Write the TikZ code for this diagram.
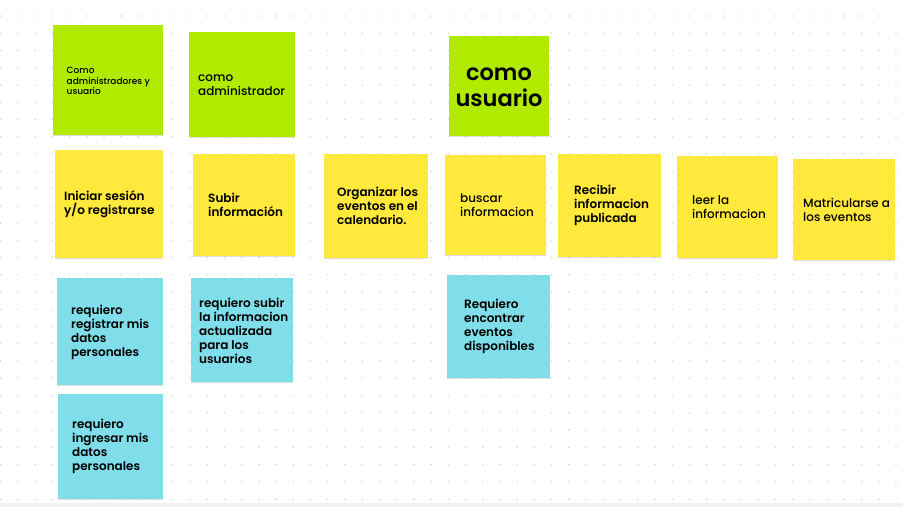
\documentclass[tikz,border=0pt]{standalone}
\usepackage{fontspec}
\setmainfont{Poppins}
\newfontfamily\media{Poppins Medium}
\newfontfamily\semi{Poppins SemiBold}
\usetikzlibrary{shadows}

\definecolor{verdenota}{HTML}{AFEA00}
\definecolor{amarillonota}{HTML}{FFE93D}
\definecolor{celestenota}{HTML}{80DEEA}

\begin{document}
\begin{tikzpicture}[x=1pt,y=-1pt]
		\tikzstyle{nota} = [rectangle,inner sep=0pt,drop shadow={shadow xshift=0pt,shadow yshift=-1.2pt,opacity=0.25}]
		\tikzstyle{verde} = [nota,fill=verdenota]
		\tikzstyle{amarilla} = [nota,fill=amarillonota]
		\tikzstyle{celeste} = [nota,fill=celestenota]
		\tikzstyle{texto} = [anchor=west,align=left,inner sep=0pt,font=\semi\fontsize{12}{14}\selectfont]
		\tikzstyle{fino} = [texto,font=\media\fontsize{12}{14}\selectfont]
		
		\useasboundingbox (0,0) rectangle (903,507);
		\fill[white] (0,0) rectangle (903,507);
		% puntos del tablero
		\foreach \i in {0,...,52}
			\foreach \j in {0,...,28}
				\fill[gray!30] (0.6+17.22*\i,16+17.25*\j) circle (0.9);
		\fill[gray!10] (0,503) rectangle (903,507);
		
		% encabezados
		\node[verde,minimum width=110pt,minimum height=110pt](ambos) at (108,80) {};
		\node[verde,minimum width=106pt,minimum height=105pt](admin) at (242,84.5) {};
		\node[verde,minimum width=100pt,minimum height=100pt](usuario) at (499,86) {};
		
		\node[fino,font=\media\fontsize{9}{10.5}\selectfont] at (66.5,81) {Como\\administradores y\\usuario};
		\node[texto,font=\media\fontsize{12}{14}\selectfont] at (198,85) {como\\administrador};
		\node[texto,anchor=center,align=center,font=\semi\fontsize{22.5}{26}\selectfont] at (499,87) {como\\usuario};
		
		% acciones
		\node[amarilla,minimum width=108pt,minimum height=108pt](iniciar) at (109,204) {};
		\node[amarilla,minimum width=102pt,minimum height=102pt](subir) at (244,205) {};
		\node[amarilla,minimum width=104pt,minimum height=104pt](organizar) at (376,206) {};
		\node[amarilla,minimum width=101pt,minimum height=100pt](buscar) at (495.5,205) {};
		\node[amarilla,minimum width=103pt,minimum height=103pt](recibir) at (609.5,205.5) {};
		\node[amarilla,minimum width=101pt,minimum height=102pt](leer) at (727.5,207) {};
		\node[amarilla,minimum width=102pt,minimum height=101pt](matricula) at (844,209.5) {};
		
		\node[texto] at (64,204.5) {Iniciar sesión\\y/o registrarse};
		\node[texto] at (208,205) {Subir\\información};
		\node[texto] at (337,206) {Organizar los\\eventos en el\\calendario.};
		\node[fino] at (460,205) {buscar\\informacion};
		\node[texto] at (574,205.5) {Recibir\\informacion\\publicada};
		\node[fino] at (692,207.5) {leer la\\informacion};
		\node[fino] at (803,209.5) {Matricularse a\\los eventos};
		
		% requisitos
		\node[celeste,minimum width=106pt,minimum height=107pt](registrar) at (110,331.5) {};
		\node[celeste,minimum width=102pt,minimum height=104pt](actualizar) at (242,330) {};
		\node[celeste,minimum width=103pt,minimum height=103pt](encontrar) at (498.5,326.5) {};
		\node[celeste,minimum width=105pt,minimum height=105pt](ingresar) at (110.5,446.5) {};
		
		\node[texto] at (71,332) {requiero\\registrar mis\\datos\\personales};
		\node[texto] at (199,330.5) {requiero subir\\la informacion\\actualizada\\para los\\usuarios};
		\node[texto] at (464,326.5) {Requiero\\encontrar\\eventos\\disponibles};
		\node[texto] at (72,446) {requiero\\ingresar mis\\datos\\personales};
\end{tikzpicture}
\end{document}
